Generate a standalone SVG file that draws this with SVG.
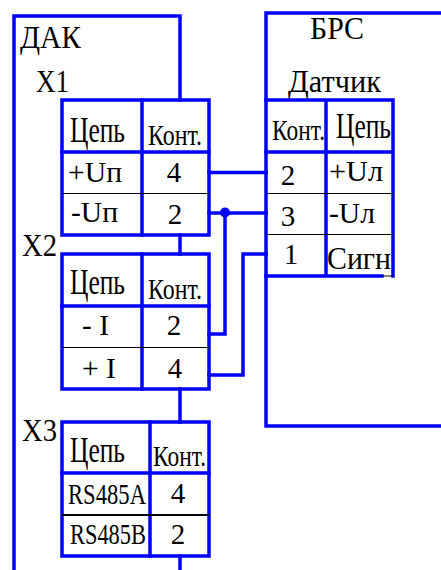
<svg xmlns="http://www.w3.org/2000/svg" width="441" height="570" viewBox="0 0 441 570">
<style>
.b{fill:none;stroke:#0000ff;stroke-width:3.5;stroke-linecap:square;stroke-linejoin:miter}
.t{fill:none;stroke:#000;stroke-width:1}
text{font-family:"Liberation Serif","Times New Roman",serif;fill:#000}
.l{font-size:32px}
.h{font-size:35px}
.k{font-size:29px}
.c{font-size:30px}
.n{font-size:29px}
.r{font-size:29px}
</style>
<rect width="441" height="570" fill="#fff"/>
<g id="dak">
<path class="b" d="M14 570V16H180V100M180 235V254M180 389V422M180 556V570"/>
<text class="l" x="20" y="48" textLength="61" lengthAdjust="spacingAndGlyphs">ДАК</text>
</g>
<g id="brs">
<path class="b" d="M441 13H266V426H441"/>
<text class="l" x="310" y="39" textLength="54" lengthAdjust="spacingAndGlyphs">БРС</text>
<text class="l" x="288" y="92" textLength="93" lengthAdjust="spacingAndGlyphs">Датчик</text>
</g>
<g id="x1">
<text class="l" x="36" y="92" textLength="33" lengthAdjust="spacingAndGlyphs">X1</text>
<rect class="b" x="62" y="100" width="147" height="135"/>
<path class="b" d="M142 100V235M62 152H209"/>
<path class="t" d="M62 193.500H209"/>
<text class="h" x="70" y="142" textLength="55" lengthAdjust="spacingAndGlyphs">Цепь</text>
<text class="k" x="148" y="145" textLength="54" lengthAdjust="spacingAndGlyphs">Конт.</text>
<text class="c" x="68" y="182" textLength="54" lengthAdjust="spacingAndGlyphs">+Uп</text>
<text class="c" x="71" y="222" textLength="47" lengthAdjust="spacingAndGlyphs">-Uп</text>
<text class="n" x="174" y="182" text-anchor="middle">4</text>
<text class="n" x="175" y="224" text-anchor="middle">2</text>
</g>
<g id="x2">
<text class="l" x="22" y="256" textLength="35" lengthAdjust="spacingAndGlyphs">X2</text>
<rect class="b" x="62" y="254" width="147" height="135"/>
<path class="b" d="M142 254V389M62 306H209"/>
<path class="t" d="M62 347.500H209"/>
<text class="h" x="70" y="294" textLength="55" lengthAdjust="spacingAndGlyphs">Цепь</text>
<text class="k" x="148" y="299" textLength="54" lengthAdjust="spacingAndGlyphs">Конт.</text>
<text class="c" x="82" y="335" textLength="27" lengthAdjust="spacingAndGlyphs">- I</text>
<text class="c" x="82" y="378" textLength="34" lengthAdjust="spacingAndGlyphs">+ I</text>
<text class="n" x="174" y="335" text-anchor="middle">2</text>
<text class="n" x="175" y="378" text-anchor="middle">4</text>
</g>
<g id="x3">
<text class="l" x="22" y="441" textLength="35" lengthAdjust="spacingAndGlyphs">X3</text>
<rect class="b" x="62" y="422" width="147" height="134"/>
<path class="b" d="M150 422V556M62 473H209"/>
<path class="t" d="M62 515H209" style="stroke-width:2"/>
<text class="h" x="70" y="462" textLength="55" lengthAdjust="spacingAndGlyphs">Цепь</text>
<text class="k" x="153" y="466" textLength="53" lengthAdjust="spacingAndGlyphs">Конт.</text>
<text class="r" x="68" y="504" textLength="78" lengthAdjust="spacingAndGlyphs">RS485A</text>
<text class="r" x="70" y="544" textLength="76" lengthAdjust="spacingAndGlyphs">RS485B</text>
<text class="n" x="178" y="503" text-anchor="middle">4</text>
<text class="n" x="178" y="544" text-anchor="middle">2</text>
</g>
<g id="datchik">
<path class="b" d="M266 100H393V276M326 100V276M266 152H393M266 276H382"/>
<path class="t" d="M266 193.500H393M266 234.500H393M382 276H393"/>
<text class="k" x="272" y="140" textLength="53" lengthAdjust="spacingAndGlyphs">Конт.</text>
<text class="h" x="336" y="138" textLength="55" lengthAdjust="spacingAndGlyphs">Цепь</text>
<text class="c" x="329" y="181" textLength="54" lengthAdjust="spacingAndGlyphs">+Uл</text>
<text class="c" x="329" y="223" textLength="46" lengthAdjust="spacingAndGlyphs">-Uл</text>
<text class="l" x="327" y="269" textLength="64" lengthAdjust="spacingAndGlyphs">Сигн</text>
<text class="n" x="288" y="185" text-anchor="middle">2</text>
<text class="n" x="288" y="226" text-anchor="middle">3</text>
<text class="n" x="291" y="264" text-anchor="middle">1</text>
</g>
<g id="connectors">
<path class="b" d="M209 172.500H266"/>
<path class="b" d="M209 213H266"/>
<path class="b" d="M225 213V334H209"/>
<path class="b" d="M209 375H243V254H266"/>
<circle cx="225" cy="212.500" r="5" fill="#0000ff"/>
</g>
</svg>
